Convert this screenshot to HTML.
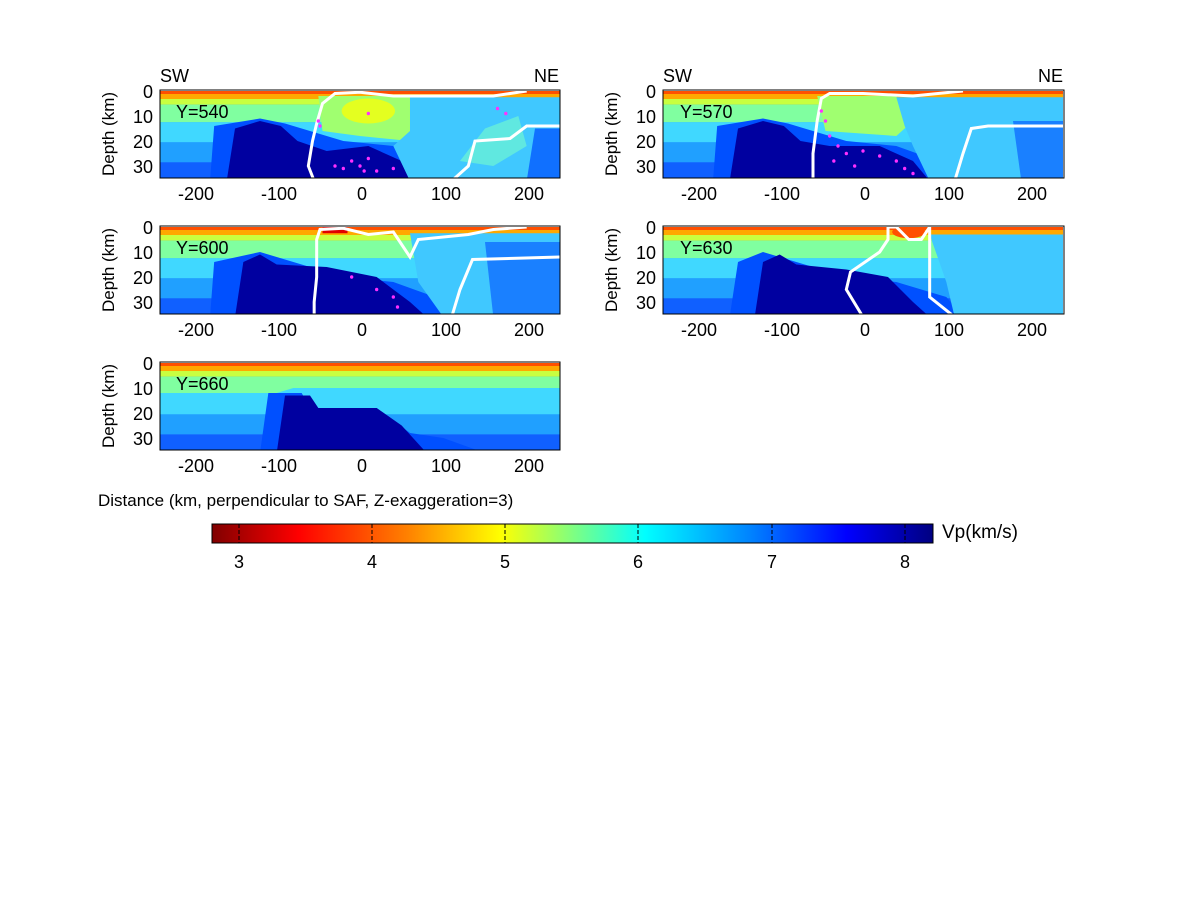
<!DOCTYPE html>
<html><head><meta charset="utf-8"><style>
body{margin:0;background:#fff;}
svg{display:block;font-family:"Liberation Sans",sans-serif;}
</style></head><body>
<svg width="1200" height="900" viewBox="0 0 1200 900" xmlns="http://www.w3.org/2000/svg">
<defs>
<linearGradient id="jet" x1="0" x2="1" y1="0" y2="0">
<stop offset="0" stop-color="#800000"/><stop offset="0.12" stop-color="#ff0000"/>
<stop offset="0.27" stop-color="#ff8000"/><stop offset="0.40" stop-color="#ffff00"/>
<stop offset="0.50" stop-color="#80ff80"/><stop offset="0.60" stop-color="#00ffff"/>
<stop offset="0.75" stop-color="#0080ff"/><stop offset="0.88" stop-color="#0000ff"/>
<stop offset="1" stop-color="#000080"/></linearGradient>
<clipPath id="cp"><rect x="-240" y="0" width="480" height="35"/></clipPath>
<g id="base">
<rect x="-240" y="0" width="480" height="35" fill="#2aa8ff"/>
<rect x="-240" y="0" width="480" height="1.2" fill="#ff5000"/>
<rect x="-240" y="1.2" width="480" height="2" fill="#ffa800"/>
<rect x="-240" y="3.2" width="480" height="2.3" fill="#c8ff40"/>
<rect x="-240" y="5.5" width="480" height="7" fill="#80ffa0"/>
<rect x="-240" y="12.5" width="480" height="8" fill="#40d8ff"/>
<rect x="-240" y="20.5" width="480" height="8" fill="#20a0ff"/>
<rect x="-240" y="28.5" width="480" height="7" fill="#1060ff"/>
</g>
</defs>
<g font-size="18" fill="#000">
<!-- Panel 1 -->
<g transform="translate(360,91) scale(0.8333,2.5)" clip-path="url(#cp)">
<use href="#base"/>
<polygon points="-180,36 -175,14 -120,11 -90,13 -60,16 -20,20 40,22 80,28 120,36" fill="#0050ff"/>
<polygon points="-160,36 -150,15 -120,12 -95,14 -75,20 -40,24 10,22 50,28 70,36" fill="#0000a0"/>
<polygon points="-50,2 60,2 70,12 60,20 0,18 -45,16" fill="#a0ff70"/>
<ellipse cx="10" cy="8" rx="32" ry="5" fill="#e4ff20"/>
<polygon points="60,2.5 240,2.5 240,36 60,36 40,22 60,16" fill="#40c8ff"/>
<polygon points="150,15 190,10 200,22 160,30 120,28" fill="#60e8e0"/>
<polygon points="210,15 240,15 240,36 200,36" fill="#1070ff"/>
<polyline points="-55,36 -62,30 -57,20 -52,13 -45,5 -30,1 0,0.5 40,2 160,2 200,0" fill="none" stroke="#fff" stroke-width="3" vector-effect="non-scaling-stroke"/>
<polyline points="110,36 130,30 138,20 180,19 200,14 240,14" fill="none" stroke="#fff" stroke-width="3" vector-effect="non-scaling-stroke"/>
<g fill="#ff30ff"><ellipse cx="-50" cy="12" rx="2" ry="0.7"/><ellipse cx="-48" cy="14" rx="2" ry="0.7"/><ellipse cx="-10" cy="28" rx="2" ry="0.7"/><ellipse cx="0" cy="30" rx="2" ry="0.7"/><ellipse cx="-20" cy="31" rx="2" ry="0.7"/><ellipse cx="10" cy="27" rx="2" ry="0.7"/><ellipse cx="20" cy="32" rx="2" ry="0.7"/><ellipse cx="-30" cy="30" rx="2" ry="0.7"/><ellipse cx="5" cy="32" rx="2" ry="0.7"/><ellipse cx="40" cy="31" rx="2" ry="0.7"/><ellipse cx="10" cy="9" rx="2" ry="0.7"/><ellipse cx="165" cy="7" rx="2" ry="0.7"/><ellipse cx="175" cy="9" rx="2" ry="0.7"/></g>
</g>
<rect x="160" y="90" width="400" height="88" fill="none" stroke="#000" stroke-width="1"/>
<!-- Panel 2 -->
<g transform="translate(863,91) scale(0.8333,2.5)" clip-path="url(#cp)">
<use href="#base"/>
<polygon points="-180,36 -175,14 -120,11 -90,13 -60,16 -20,20 40,22 90,28 120,36" fill="#0050ff"/>
<polygon points="-160,36 -150,15 -120,12 -95,14 -75,20 -40,22 20,22 60,28 80,36" fill="#0000a0"/>
<polygon points="-55,2 40,2 60,12 40,18 -45,16" fill="#a0ff70"/>
<polygon points="40,2.5 240,2.5 240,36 80,36 60,22 50,14" fill="#40c8ff"/>
<polygon points="180,12 240,12 240,36 190,36" fill="#1a80ff"/>
<polyline points="-60,36 -60,25 -55,12 -50,3 -40,1 0,1 60,2 120,0" fill="none" stroke="#fff" stroke-width="3" vector-effect="non-scaling-stroke"/>
<polyline points="110,36 120,25 130,15 150,14 240,14" fill="none" stroke="#fff" stroke-width="3" vector-effect="non-scaling-stroke"/>
<g fill="#ff30ff"><ellipse cx="-50" cy="8" rx="2" ry="0.7"/><ellipse cx="-45" cy="12" rx="2" ry="0.7"/><ellipse cx="-40" cy="18" rx="2" ry="0.7"/><ellipse cx="-30" cy="22" rx="2" ry="0.7"/><ellipse cx="-20" cy="25" rx="2" ry="0.7"/><ellipse cx="0" cy="24" rx="2" ry="0.7"/><ellipse cx="20" cy="26" rx="2" ry="0.7"/><ellipse cx="40" cy="28" rx="2" ry="0.7"/><ellipse cx="-35" cy="28" rx="2" ry="0.7"/><ellipse cx="-10" cy="30" rx="2" ry="0.7"/><ellipse cx="50" cy="31" rx="2" ry="0.7"/><ellipse cx="60" cy="33" rx="2" ry="0.7"/></g>
</g>
<rect x="663" y="90" width="401" height="88" fill="none" stroke="#000"/>
<!-- Panel 3 -->
<g transform="translate(360,227) scale(0.8333,2.5)" clip-path="url(#cp)">
<use href="#base"/>
<polygon points="-180,36 -175,14 -120,10 -90,13 -60,16 -20,20 40,22 90,28 120,36" fill="#0050ff"/>
<polygon points="-150,36 -140,14 -120,11 -100,15 -40,16 20,20 60,30 80,36" fill="#0000a0"/>
<polygon points="60,2.5 240,2.5 240,36 100,36 70,22" fill="#40c8ff"/>
<rect x="-45" y="0" width="30" height="2.5" fill="#e00000"/>
<polygon points="150,6 240,6 240,36 160,36" fill="#1a80ff"/>
<polyline points="-55,36 -55,30 -52,20 -52,5 -48,1 -20,0.5 10,3 40,2 60,12 70,5 130,3 160,1 200,0" fill="none" stroke="#fff" stroke-width="3" vector-effect="non-scaling-stroke"/>
<polyline points="110,36 120,25 135,13 240,12" fill="none" stroke="#fff" stroke-width="3" vector-effect="non-scaling-stroke"/>
<g fill="#ff30ff"><ellipse cx="-10" cy="20" rx="2" ry="0.7"/><ellipse cx="20" cy="25" rx="2" ry="0.7"/><ellipse cx="40" cy="28" rx="2" ry="0.7"/><ellipse cx="45" cy="32" rx="2" ry="0.7"/></g>
</g>
<rect x="160" y="226" width="400" height="88" fill="none" stroke="#000"/>
<!-- Panel 4 -->
<g transform="translate(863,227) scale(0.8333,2.5)" clip-path="url(#cp)">
<use href="#base"/>
<polygon points="-160,36 -150,14 -120,10 -90,13 -60,16 -20,20 40,22 100,28 120,36" fill="#0050ff"/>
<polygon points="-130,36 -120,14 -100,11 -80,15 -20,17 30,20 60,30 80,36" fill="#0000a0"/>
<polygon points="80,3 240,3 240,36 110,36 100,22" fill="#40c8ff"/>
<ellipse cx="55" cy="2" rx="20" ry="2.5" fill="#ff5000"/>
<polyline points="0,36 -20,25 -15,18 20,10 30,5 30,0 40,0 55,5 70,5 80,0 80,10 80,28 110,36" fill="none" stroke="#fff" stroke-width="3" vector-effect="non-scaling-stroke"/>
</g>
<rect x="663" y="226" width="401" height="88" fill="none" stroke="#000"/>
<!-- Panel 5 -->
<g transform="translate(360,363) scale(0.8333,2.5)" clip-path="url(#cp)">
<use href="#base"/>
<polygon points="-240,12 -100,12 -80,10 240,10 240,36 -240,36" fill="#40d8ff"/>
<rect x="-240" y="20.5" width="480" height="8" fill="#20a0ff"/>
<rect x="-240" y="28.5" width="480" height="7" fill="#1060ff"/>
<polygon points="-120,36 -110,12 -70,12 -60,18 20,18 60,28 100,30 150,36" fill="#0050ff"/>
<polygon points="-100,36 -90,13 -60,13 -50,18 20,18 50,25 80,36" fill="#0000a0"/>
</g>
<rect x="160" y="362" width="400" height="88" fill="none" stroke="#000"/>

<g text-anchor="middle">
<text x="196" y="200">-200</text><text x="279" y="200">-100</text><text x="362" y="200">0</text><text x="446" y="200">100</text><text x="529" y="200">200</text>
<text x="699" y="200">-200</text><text x="782" y="200">-100</text><text x="865" y="200">0</text><text x="949" y="200">100</text><text x="1032" y="200">200</text>
<text x="196" y="336">-200</text><text x="279" y="336">-100</text><text x="362" y="336">0</text><text x="446" y="336">100</text><text x="529" y="336">200</text>
<text x="699" y="336">-200</text><text x="782" y="336">-100</text><text x="865" y="336">0</text><text x="949" y="336">100</text><text x="1032" y="336">200</text>
<text x="196" y="472">-200</text><text x="279" y="472">-100</text><text x="362" y="472">0</text><text x="446" y="472">100</text><text x="529" y="472">200</text>
</g>
<g text-anchor="end">
<text x="153" y="98">0</text><text x="153" y="123">10</text><text x="153" y="148">20</text><text x="153" y="173">30</text>
<text x="656" y="98">0</text><text x="656" y="123">10</text><text x="656" y="148">20</text><text x="656" y="173">30</text>
<text x="153" y="234">0</text><text x="153" y="259">10</text><text x="153" y="284">20</text><text x="153" y="309">30</text>
<text x="656" y="234">0</text><text x="656" y="259">10</text><text x="656" y="284">20</text><text x="656" y="309">30</text>
<text x="153" y="370">0</text><text x="153" y="395">10</text><text x="153" y="420">20</text><text x="153" y="445">30</text>
</g>
<g font-size="17" text-anchor="middle">
<text transform="translate(114,134) rotate(-90)">Depth (km)</text>
<text transform="translate(617,134) rotate(-90)">Depth (km)</text>
<text transform="translate(114,270) rotate(-90)">Depth (km)</text>
<text transform="translate(617,270) rotate(-90)">Depth (km)</text>
<text transform="translate(114,406) rotate(-90)">Depth (km)</text>
</g>
<text x="160" y="82">SW</text><text x="534" y="82">NE</text>
<text x="663" y="82">SW</text><text x="1038" y="82">NE</text>
<text x="176" y="118">Y=540</text><text x="680" y="118">Y=570</text>
<text x="176" y="254">Y=600</text><text x="680" y="254">Y=630</text>
<text x="176" y="390">Y=660</text>
<text x="98" y="506" font-size="17">Distance (km, perpendicular to SAF, Z-exaggeration=3)</text>
<rect x="212" y="524" width="721" height="19" fill="url(#jet)" stroke="#000"/>
<g stroke="#000" stroke-dasharray="4,2"><line x1="239" y1="524" x2="239" y2="543"/><line x1="372" y1="524" x2="372" y2="543"/><line x1="505" y1="524" x2="505" y2="543"/><line x1="638" y1="524" x2="638" y2="543"/><line x1="772" y1="524" x2="772" y2="543"/><line x1="905" y1="524" x2="905" y2="543"/></g>
<g text-anchor="middle"><text x="239" y="568">3</text><text x="372" y="568">4</text><text x="505" y="568">5</text><text x="638" y="568">6</text><text x="772" y="568">7</text><text x="905" y="568">8</text></g>
<text x="942" y="538" font-size="19">Vp(km/s)</text>
</g>
</svg>
</body></html>
